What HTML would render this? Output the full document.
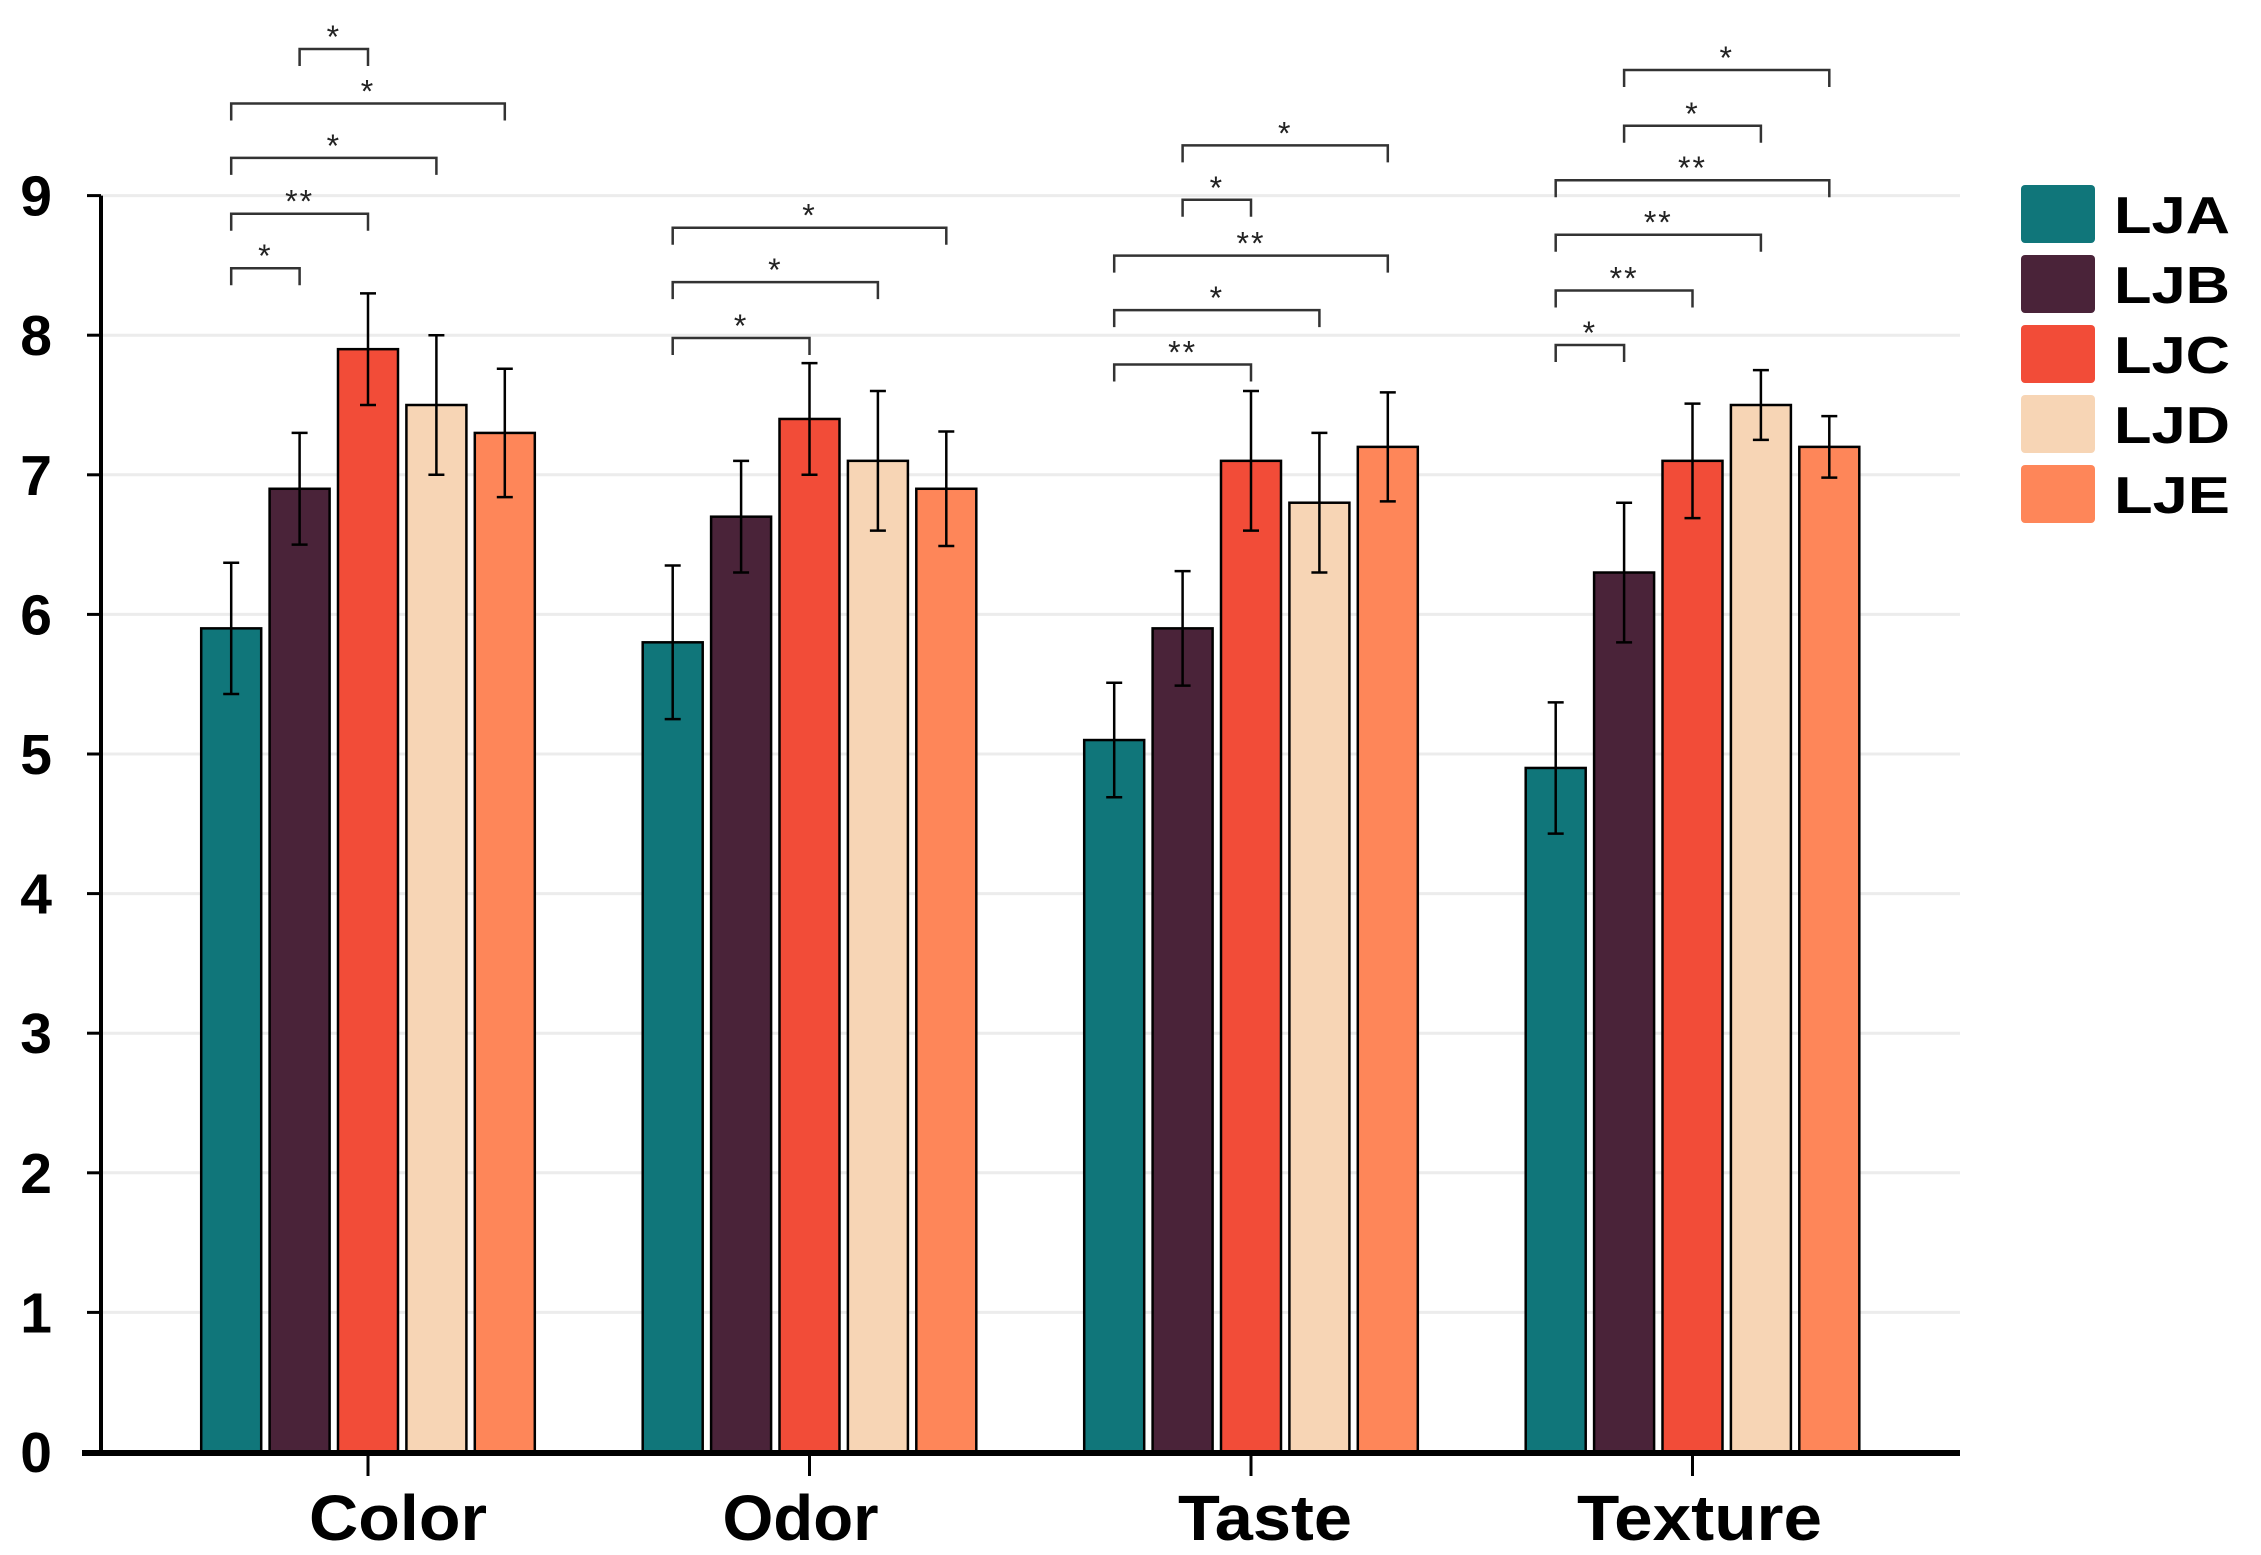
<!DOCTYPE html>
<html><head><meta charset="utf-8"><style>
html,body{margin:0;padding:0;background:#fff;}
svg{display:block;font-family:"Liberation Sans",sans-serif;}
</style></head><body>
<svg id="chart" width="2261" height="1555" viewBox="0 0 2261 1555" xmlns="http://www.w3.org/2000/svg"></svg>
<script>
const categories = ["Color","Odor","Taste","Texture"];
const seriesNames = ["LJA","LJB","LJC","LJD","LJE"];
const seriesColors = ["#10767a","#4a2339","#f24c38","#f7d5b5","#fe8659"];
const valuesLJA = [5.9,5.8,5.1,4.9];
const valuesLJB = [6.9,6.7,5.9,6.3];
const valuesLJC = [7.9,7.4,7.1,7.1];
const valuesLJD = [7.5,7.1,6.8,7.5];
const valuesLJE = [7.3,6.9,7.2,7.2];
const errLJA = [0.47,0.55,0.41,0.47];
const errLJB = [0.4,0.4,0.41,0.5];
const errLJC = [0.4,0.4,0.5,0.41];
const errLJD = [0.5,0.5,0.5,0.25];
const errLJE = [0.46,0.41,0.39,0.22];
const yTicks = [0,1,2,3,4,5,6,7,8,9];
// significance: [category, seriesA, seriesB, level, label]
const sigColor = [[0,0,1,8.48,"*"],[0,0,2,8.87,"**"],[0,0,3,9.27,"*"],[0,0,4,9.66,"*"],[0,1,2,10.05,"*"]];
const sigOdor = [[1,0,2,7.98,"*"],[1,0,3,8.38,"*"],[1,0,4,8.77,"*"]];
const sigTaste = [[2,0,2,7.79,"**"],[2,0,3,8.18,"*"],[2,0,4,8.57,"**"],[2,1,2,8.97,"*"],[2,1,4,9.36,"*"]];
const sigTexture = [[3,0,1,7.93,"*"],[3,0,2,8.32,"**"],[3,0,3,8.72,"**"],[3,0,4,9.11,"**"],[3,1,3,9.5,"*"],[3,1,4,9.9,"*"]];

const labelShift = [30,-9,14,7];
const labelLen = [178,156,174,245];
const values = [valuesLJA,valuesLJB,valuesLJC,valuesLJD,valuesLJE];
const errs = [errLJA,errLJB,errLJC,errLJD,errLJE];
const NS = "http://www.w3.org/2000/svg";
const svg = document.getElementById("chart");
const Y0 = 1452, UNIT = 139.6, AX = 101, XR = 1960;
const groupC0 = 368, groupStep = 441.5, slot = 68.4, barW = 60;
function y(v){ return Y0 - v*UNIT; }
function xc(ci, si){ return groupC0 + ci*groupStep + (si-2)*slot; }
function mk(tag, attrs, parent){
  const e = document.createElementNS(NS, tag);
  for (const k in attrs) e.setAttribute(k, attrs[k]);
  (parent||svg).appendChild(e); return e;
}
yTicks.forEach(t=>{
  if(t>0){
    const g = mk("line",{x1:AX,x2:XR,y1:y(t),y2:y(t),stroke:"#ececec","stroke-width":3});
    
    
  }
  const tk = mk("line",{x1:87,x2:AX,y1:y(t),y2:y(t),stroke:"#000","stroke-width":3});
  
  
  const tl = mk("text",{x:52,y:y(t)+20,"text-anchor":"end","font-size":57,"font-weight":"bold",fill:"#000"});
  tl.textContent = t;
  
  
});
categories.forEach((c,ci)=>{
  seriesNames.forEach((s,si)=>{
    const v = values[si][ci], e = errs[si][ci], cx = xc(ci,si);
    const r = mk("rect",{x:cx-barW/2,y:y(v),width:barW,height:Y0-y(v),fill:seriesColors[si],stroke:"#000","stroke-width":2.5});
    
    
    const eb = mk("path",{d:`M${cx},${y(v+e)}V${y(v-e)}M${cx-8},${y(v+e)}H${cx+8}M${cx-8},${y(v-e)}H${cx+8}`,stroke:"#000","stroke-width":2.5,fill:"none"});
    
    
  });
  const ct = mk("line",{x1:xc(ci,2),x2:xc(ci,2),y1:Y0,y2:1476,stroke:"#000","stroke-width":3});
  
  
  const cl = mk("text",{x:xc(ci,2)+labelShift[ci],y:1540,"text-anchor":"middle","font-size":64,"font-weight":"bold",fill:"#000",textLength:labelLen[ci],lengthAdjust:"spacingAndGlyphs"});
  cl.textContent = c;
  
  
});
const ya = mk("line",{x1:AX,x2:AX,y1:y(9),y2:Y0,stroke:"#000","stroke-width":4});


const xa = mk("line",{x1:82,x2:XR,y1:Y0+1,y2:Y0+1,stroke:"#000","stroke-width":6});


[].concat(sigColor,sigOdor,sigTaste,sigTexture).forEach(b=>{
  const [ci,a,bb,lv,lab] = b;
  const x1 = xc(ci,a), x2 = xc(ci,bb), yy = y(lv);
  const p = mk("path",{d:`M${x1},${yy+17}V${yy}H${x2}V${yy+17}`,stroke:"#333","stroke-width":2.5,fill:"none"});
  
  
  const t = mk("text",{x:(x1+x2)/2,y:yy-1,"text-anchor":"middle","font-size":32,fill:"#222","letter-spacing":2});
  t.textContent = lab;
  
  
});
seriesNames.forEach((s,si)=>{
  const g = mk("g",{});
  
  
  const r = mk("rect",{x:2021,y:185+si*70,width:74,height:58,rx:4,fill:seriesColors[si]},g);
  
  
  const t = mk("text",{x:2114,y:233+si*70,"font-size":52,"font-weight":"bold",fill:"#000",textLength:116,lengthAdjust:"spacingAndGlyphs"},g);
  t.textContent = s;
  
  
});
</script>
</body></html>
